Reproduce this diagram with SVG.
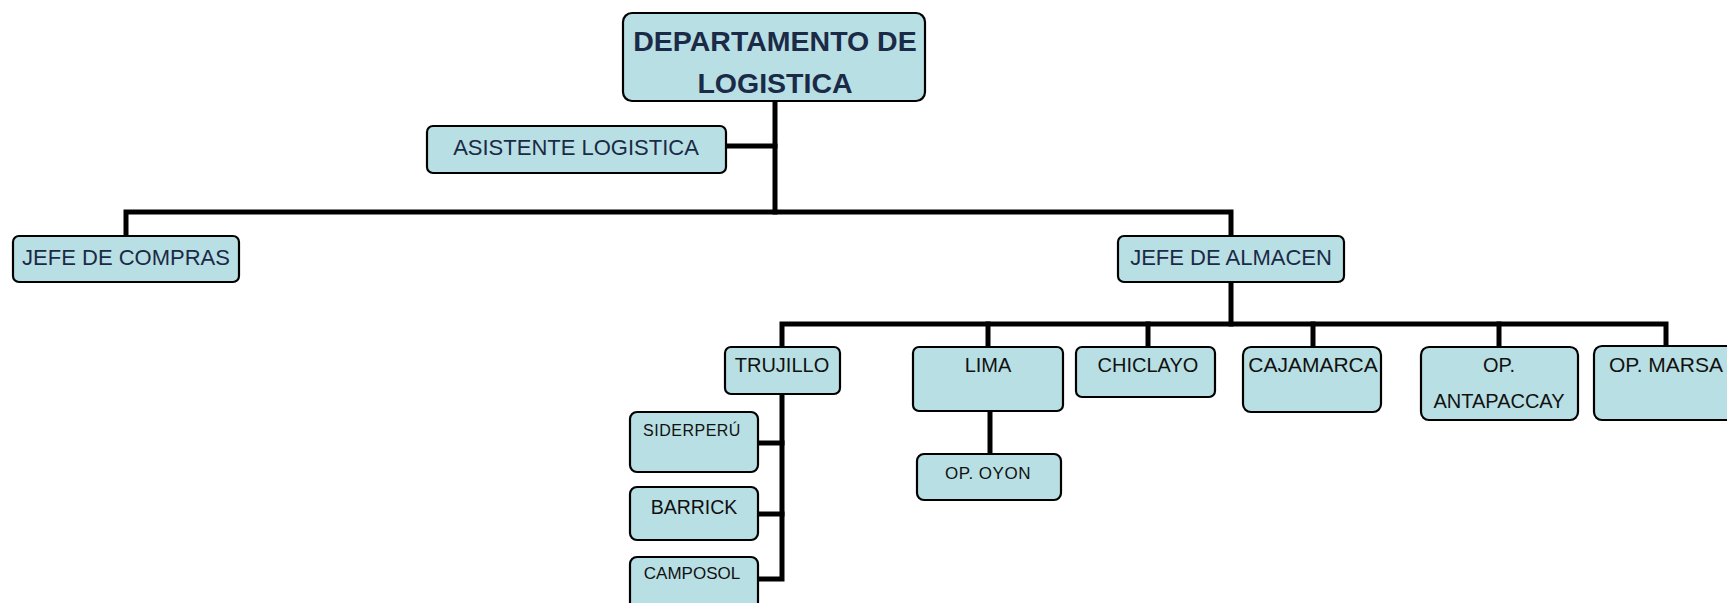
<svg xmlns="http://www.w3.org/2000/svg" width="1727" height="603" viewBox="0 0 1727 603">
<style>
.box{fill:#B8DFE3;stroke:#000;stroke-width:2.2}
.t{font-family:"Liberation Sans",Arial,sans-serif;fill:#111;text-anchor:middle}
.ln{stroke:#000;stroke-width:5;fill:none;stroke-linecap:square}
</style>
<rect width="1727" height="603" fill="#fff"/>
<g id="connectors">
<path class="ln" d="M775 101V212"/>
<path class="ln" d="M726 146H775"/>
<path class="ln" d="M126 236V212H1231V236"/>
<path class="ln" d="M1231 282V324"/>
<path class="ln" d="M782 347V324H1666V347"/>
<path class="ln" d="M988 324V347"/>
<path class="ln" d="M1148 324V347"/>
<path class="ln" d="M1313 324V347"/>
<path class="ln" d="M1499 324V347"/>
<path class="ln" d="M782 394V579H758"/>
<path class="ln" d="M758 443H782"/>
<path class="ln" d="M758 514H782"/>
<path class="ln" d="M990 411V454"/>
</g>
<g id="n-dept">
<rect class="box" x="623" y="13" width="302" height="88" rx="9"/>
<text class="t" x="775" y="51" font-size="28.5" font-weight="bold" style="fill:#1B2A47">DEPARTAMENTO DE</text>
<text class="t" x="775" y="93" font-size="28.5" font-weight="bold" style="fill:#1B2A47">LOGISTICA</text>
</g>
<g id="n-asistente">
<rect class="box" x="427" y="126" width="299" height="47" rx="6"/>
<text class="t" x="576" y="155" font-size="22" style="fill:#1B2A47">ASISTENTE LOGISTICA</text>
</g>
<g id="n-compras">
<rect class="box" x="13" y="236" width="226" height="46" rx="6"/>
<text class="t" x="126" y="265" font-size="22" style="fill:#1B2A47">JEFE DE COMPRAS</text>
</g>
<g id="n-almacen">
<rect class="box" x="1118" y="236" width="226" height="46" rx="6"/>
<text class="t" x="1231" y="265" font-size="22" style="fill:#1B2A47">JEFE DE ALMACEN</text>
</g>
<g id="n-trujillo">
<rect class="box" x="725" y="347" width="115" height="47" rx="6"/>
<text class="t" x="782" y="372" font-size="20">TRUJILLO</text>
</g>
<g id="n-lima">
<rect class="box" x="913" y="347" width="150" height="64" rx="6"/>
<text class="t" x="988" y="372" font-size="20">LIMA</text>
</g>
<g id="n-chiclayo">
<rect class="box" x="1076" y="347" width="139" height="50" rx="6"/>
<text class="t" x="1148" y="372" font-size="20">CHICLAYO</text>
</g>
<g id="n-cajamarca">
<rect class="box" x="1243" y="347" width="138" height="65" rx="8"/>
<text class="t" x="1313" y="372" font-size="21">CAJAMARCA</text>
</g>
<g id="n-antapaccay">
<rect class="box" x="1421" y="347" width="157" height="73" rx="8"/>
<text class="t" x="1499" y="372" font-size="20">OP.</text>
<text class="t" x="1499" y="408" font-size="20">ANTAPACCAY</text>
</g>
<g id="n-marsa">
<rect class="box" x="1594" y="346" width="150" height="74" rx="8"/>
<text class="t" x="1666" y="372" font-size="21">OP. MARSA</text>
</g>
<g id="n-siderperu">
<rect class="box" x="630" y="412" width="128" height="60" rx="7"/>
<text class="t" x="692" y="436" font-size="16" letter-spacing="0.5">SIDERPERÚ</text>
</g>
<g id="n-barrick">
<rect class="box" x="630" y="487" width="128" height="53" rx="7"/>
<text class="t" x="694" y="514" font-size="19.5">BARRICK</text>
</g>
<g id="n-camposol">
<rect class="box" x="630" y="557" width="128" height="56" rx="7"/>
<text class="t" x="692" y="579" font-size="17">CAMPOSOL</text>
</g>
<g id="n-oyon">
<rect class="box" x="917" y="454" width="144" height="46" rx="7"/>
<text class="t" x="988" y="479" font-size="17" letter-spacing="0.5">OP. OYON</text>
</g>
</svg>
